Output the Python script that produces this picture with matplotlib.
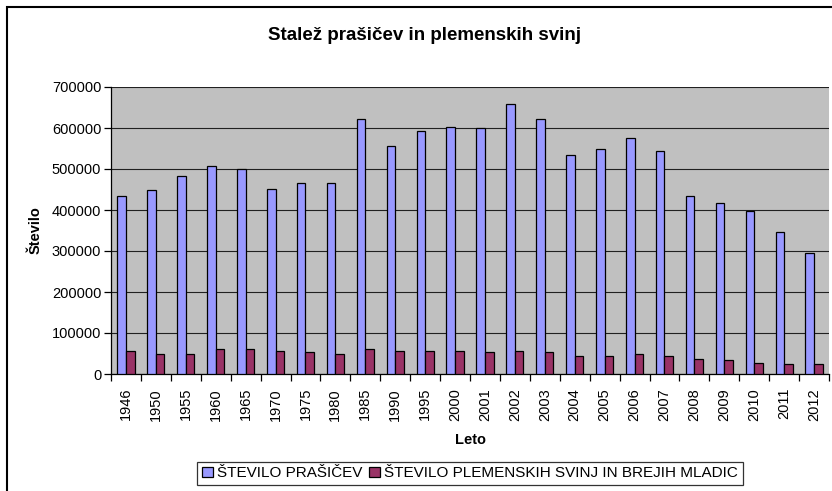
import numpy as np
import matplotlib
matplotlib.use("Agg")
import matplotlib.pyplot as plt
from matplotlib.patches import Rectangle

# Data

leta = ["1946", "1950", "1955", "1960", "1965", "1970", "1975", "1980", "1985",
        "1990", "1995", "2000", "2001", "2002", "2003", "2004", "2005", "2006",
        "2007", "2008", "2009", "2010", "2011", "2012"]

prasici = [433000, 448000, 482000, 508000, 500000, 451000, 467000, 467000, 621000,
           557000, 592000, 603000, 601000, 658000, 621000, 533000, 549000, 575000,
           543000, 433000, 416000, 397000, 347000, 296000]

plemenske = [56000, 50000, 50000, 62000, 60000, 56000, 54000, 48000, 60000,
             57000, 57000, 57000, 54000, 56000, 54000, 45000, 45000, 48000,
             45000, 36000, 34000, 28000, 25000, 25000]

naslov = "Stalež prašičev in plemenskih svinj"
serije = ["ŠTEVILO PRAŠIČEV", "ŠTEVILO PLEMENSKIH SVINJ IN BREJIH MLADIC"]

plt.rcParams["font.family"] = ["Liberation Sans", "DejaVu Sans"]

W, H = 832, 491
fig = plt.figure(figsize=(W / 100, H / 100), dpi=100)

# plot area in pixels: left 111, right 829, top 87, bottom 374
ax = fig.add_axes([111 / W, 1 - 374 / H, (829 - 111) / W, (374 - 87) / H])
ax.set_facecolor("#C0C0C0")

x = np.arange(len(leta))
w = 1 / 3.5

ax.bar(x - w / 2, prasici, w, color="#9999FF", edgecolor="black", linewidth=0.9,
       label=serije[0], zorder=3)
ax.bar(x + w / 2, plemenske, w, color="#993366", edgecolor="black", linewidth=0.9,
       label=serije[1], zorder=3)

ax.set_xlim(-0.5, len(leta) - 0.5)
ax.set_ylim(0, 700000)
ax.set_yticks(np.arange(0, 700001, 100000))
ax.set_yticklabels([str(v) for v in range(0, 700001, 100000)], fontsize=10.5)
ax.yaxis.grid(True, color="#202020", linewidth=0.8, zorder=0)
ax.set_axisbelow(True)

ax.set_xticks(x)
ax.set_xticklabels(leta, rotation=90, fontsize=10.5)
ax.tick_params(axis="x", length=0, pad=10)
ax.set_xticks(np.arange(-0.5, len(leta)), minor=True)
ax.tick_params(axis="x", which="minor", length=5, width=0.9, color="black")
ax.tick_params(axis="y", length=5, width=0.9, pad=2)

for s in ["top", "right"]:
    ax.spines[s].set_visible(False)
ax.spines["left"].set_linewidth(0.9)
ax.spines["bottom"].set_linewidth(0.9)

ax.set_ylabel("Število", fontsize=10.5, fontweight="bold", labelpad=7)
ax.set_xlabel("Leto", fontsize=10.5, fontweight="bold", labelpad=9)

fig.text(425 / W, 1 - 36 / H, naslov, fontsize=13.5,
         fontweight="bold", ha="center", va="center")

leg = ax.legend(loc="upper center", bbox_to_anchor=(0.5, -0.306), ncol=2,
                fontsize=11, frameon=True, fancybox=False, edgecolor="black",
                handlelength=0.7, handleheight=0.7, handletextpad=0.3,
                columnspacing=0.4, borderpad=0.3, borderaxespad=0)
leg.get_frame().set_linewidth(0.9)

# outer chart border (clipped at the right and bottom)
fig.patches.append(Rectangle((7 / W, -0.1), 1.1, 1 - 7 / H + 0.1,
                             transform=fig.transFigure, fill=False,
                             edgecolor="black", linewidth=1.5))

fig.savefig("out.png", dpi=100)
